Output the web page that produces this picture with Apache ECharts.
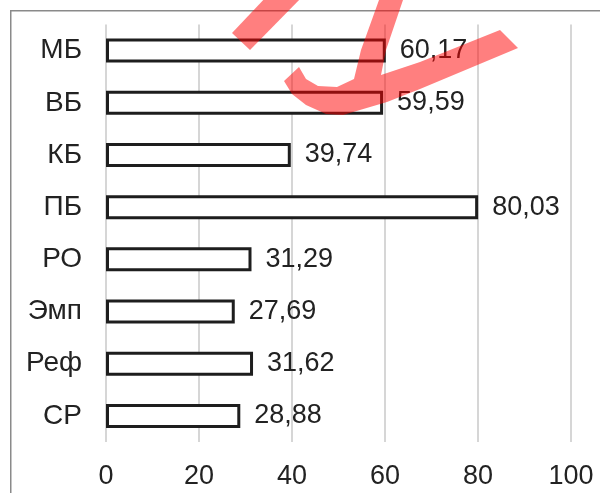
<!DOCTYPE html>
<html lang="ru">
<head>
    <meta charset="UTF-8">
    <title>Bar chart</title>
    <style>
        html, body { margin: 0; padding: 0; background: #fff; }
        #main { width: 600px; height: 493px; }
    </style>
</head>
<body>
<div id="main"></div>
<script src="https://cdn.jsdelivr.net/npm/echarts@6/dist/echarts.min.js"></script>
<script>
    // данные (сверху вниз)
    const categories = ['МБ', 'ВБ', 'КБ', 'ПБ', 'РО', 'Эмп', 'Реф', 'СР'];
    const values = [60.17, 59.59, 39.74, 80.03, 31.29, 27.69, 31.62, 28.88];
    const axisTicks = [0, 20, 40, 60, 80, 100];

    const font = 'Liberation Sans, Arial, sans-serif';
    const textColor = '#222';

    const myChart = echarts.init(document.getElementById('main'));

    // красная отметка поверх графика: два залитых контура
    const markFill = 'rgba(255, 0, 0, 0.5)';
    const markStroke = [[232, 33], [250, 50], [304, -5], [268, -5]];
    const markHook = [
        [284, 81], [292, 94], [306, 105], [326, 114], [343, 115], [387, 102], [420, 89],
        [518, 48], [500, 30], [420, 62], [381, 75], [386, 50], [403, 0], [405, -5],
        [380, -5], [379, 0], [361, 50], [354, 79], [337, 87], [318, 86], [306, 79], [299, 67]
    ];

    myChart.setOption({
        backgroundColor: '#fff',
        animation: false,
        grid: {
            left: 106,
            right: 29,
            top: 24.5,
            bottom: 51
        },
        xAxis: {
            type: 'value',
            min: axisTicks[0],
            max: axisTicks[axisTicks.length - 1],
            interval: axisTicks[1] - axisTicks[0],
            axisLine: { show: false },
            axisTick: { show: false },
            axisLabel: {
                fontSize: 27,
                fontFamily: font,
                color: textColor,
                margin: 21
            },
            splitLine: {
                show: true,
                lineStyle: { color: '#c8c8c8', width: 1.5 }
            }
        },
        yAxis: {
            type: 'category',
            data: categories,
            inverse: true,
            axisLine: { show: false },
            axisTick: { show: false },
            axisLabel: {
                fontSize: 28,
                fontFamily: font,
                color: textColor,
                margin: 24
            }
        },
        series: [{
            type: 'bar',
            data: values,
            barWidth: 24,
            itemStyle: {
                color: '#fff',
                borderColor: '#1e1e1e',
                borderWidth: 3
            },
            label: {
                show: true,
                position: 'right',
                distance: 14,
                fontSize: 27,
                fontFamily: font,
                color: textColor,
                formatter: function (p) {
                    return p.value.toFixed(2).replace('.', ',');
                }
            }
        }],
        graphic: [
            // рамка
            {
                type: 'rect',
                z: 100,
                shape: { x: 10.75, y: 10.75, width: 700, height: 600 },
                style: { fill: null, stroke: '#8a8a8a', lineWidth: 1.5 }
            },
            {
                type: 'polygon',
                z: 110,
                shape: { points: markStroke },
                style: { fill: markFill }
            },
            {
                type: 'polygon',
                z: 110,
                shape: { points: markHook },
                style: { fill: markFill }
            }
        ]
    });
</script>
</body>
</html>
